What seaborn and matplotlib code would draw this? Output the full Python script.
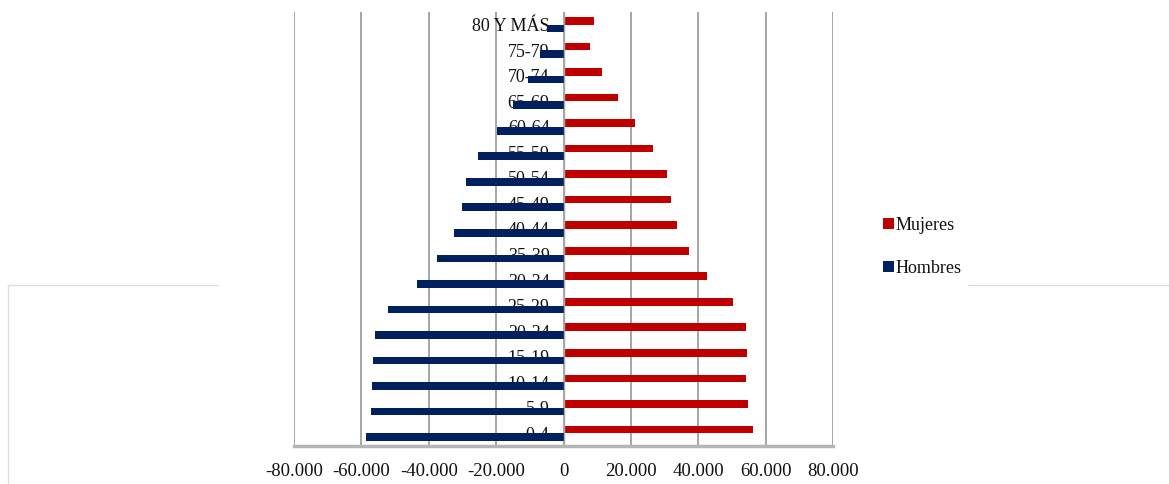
import numpy as np
import pandas as pd
import matplotlib
matplotlib.use("Agg")
import matplotlib.pyplot as plt
import seaborn as sns
from matplotlib.lines import Line2D
from matplotlib.patches import Patch
from matplotlib.ticker import FuncFormatter

# ---- data ----
age_groups = ["80 Y MÁS", "75-79", "70-74", "65-69", "60-64", "55-59", "50-54",
              "45-49", "40-44", "35-39", "30-34", "25-29", "20-24", "15-19",
              "10-14", "5-9", "0-4"]
mujeres = [9000, 8000, 11500, 16300, 21300, 26700, 30700, 31900, 33800, 37300,
           42700, 50400, 54100, 54400, 54300, 54800, 56300]
hombres = [5000, 6900, 10400, 15000, 19700, 25400, 29000, 30000, 32500, 37500,
           43600, 52000, 56100, 56500, 56800, 57100, 58500]
series_names = ["Mujeres", "Hombres"]
x_ticks = [-80000, -60000, -40000, -20000, 0, 20000, 40000, 60000, 80000]

df = pd.DataFrame({
    "Grupo": age_groups * 2,
    "Sexo": [series_names[0]] * len(age_groups) + [series_names[1]] * len(age_groups),
    "Poblacion": mujeres + [-v for v in hombres],
})

sns.set_style("white")
plt.rcParams["font.family"] = ["Liberation Serif", "DejaVu Serif"]

W, H = 1169, 484
fig = plt.figure(figsize=(W / 100, H / 100), dpi=100)
ax = fig.add_axes([294 / W, 1 - 446 / H, (833 - 294) / W, (446 - 12) / H])

colors = {"Mujeres": "#C00000", "Hombres": "#002060"}
sns.barplot(data=df, y="Grupo", x="Poblacion", hue="Sexo", order=age_groups,
            hue_order=series_names, palette=colors, saturation=1, orient="h",
            width=0.6, gap=0, dodge=True, errorbar=None, linewidth=0,
            legend=False, ax=ax)

ax.set_xlim(-80000, 80000)
ax.set_ylim(len(age_groups) - 0.5, -0.5)
ax.set_xticks(x_ticks)
ax.xaxis.set_major_formatter(FuncFormatter(lambda v, p: f"{int(v):,}".replace(",", ".")))
ax.set_xlabel("")
ax.set_ylabel("")

ax.grid(axis="x", color="#a6a6a6", lw=1.4)
ax.grid(axis="y", visible=False)
ax.set_axisbelow(True)

for s in ["top", "right"]:
    ax.spines[s].set_visible(False)
ax.spines["bottom"].set_color("#b5b5b5")
ax.spines["bottom"].set_linewidth(2.5)
ax.spines["left"].set_position(("data", 0))
ax.spines["left"].set_color("#a6a6a6")
ax.spines["left"].set_linewidth(1.0)

ax.tick_params(axis="x", which="major", length=6, width=1.2, color="#a6a6a6",
               labelsize=13.5, labelcolor="#111111", pad=6, direction="out")
ax.tick_params(axis="y", which="major", length=0, labelsize=13,
               labelcolor="#111111", pad=10)
ax.set_yticks(np.arange(-0.5, len(age_groups), 1), minor=True)
ax.tick_params(axis="y", which="minor", length=4, width=1, color="#a6a6a6",
               direction="in")

# legend
handles = [Patch(facecolor=colors[n], edgecolor="none") for n in series_names]
fig.legend(handles, series_names, loc="center left",
           bbox_to_anchor=(867 / W, 1 - 247 / H), frameon=False,
           handlelength=0.6, handleheight=0.6, handletextpad=0.1,
           labelspacing=1.45, fontsize=13, labelcolor="#111111")

# faint background page outlines
for xs, ys in [([8, 218], [285, 285]), ([8, 8], [285, 484]), ([968, 1169], [285, 285])]:
    fig.add_artist(Line2D([x / W for x in xs], [1 - y / H for y in ys],
                          color="#dddddd", lw=1, transform=fig.transFigure))

fig.savefig("out.png", dpi=100)
